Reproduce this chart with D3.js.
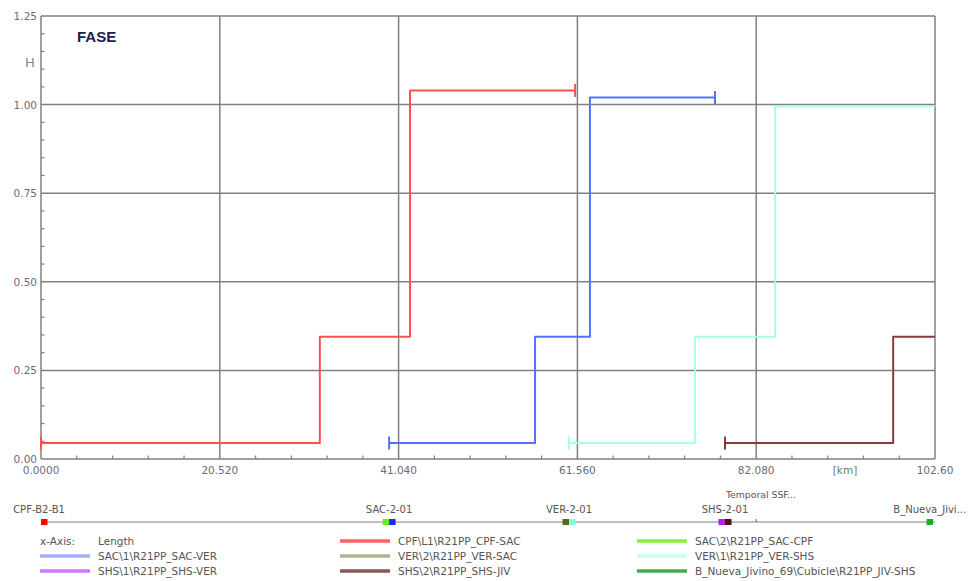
<!DOCTYPE html>
<html>
<head>
<meta charset="utf-8">
<script src="https://cdn.jsdelivr.net/npm/d3@7"></script>
<style>
  body { margin: 0; background: #fff; }
  svg { display: block; font-family: "DejaVu Sans", Verdana, sans-serif; }
</style>
</head>
<body>
<svg id="chart" width="972" height="581"></svg>
<script>
// Axis extents and tick labels
const xTicks = [0, 20.52, 41.04, 61.56, 82.08, 102.6];
const xTickLabels = ["0.0000", "20.520", "41.040", "61.560", "82.080", "102.60"];
const yTicks = [0, 0.25, 0.5, 0.75, 1.0, 1.25];
const yTickLabels = ["0.00", "0.25", "0.50", "0.75", "1.00", "1.25"];

// Step series: break points along the line (km) and the level of each step
const redX = [0.0, 32.0, 42.35, 61.3];
const redY = [0.045, 0.345, 1.04];
const blueX = [39.95, 56.7, 63.0, 77.35];
const blueY = [0.045, 0.345, 1.02];
const cyanX = [60.6, 75.05, 84.25, 102.6];
const cyanY = [0.045, 0.345, 0.995];
const brownX = [78.5, 97.8, 102.6];
const brownY = [0.045, 0.345];

// Stations along the path
const stationNames = ["CPF-B2-B1", "SAC-2-01", "VER-2-01", "SHS-2-01", "B_Nueva_Jivi..."];
const stationKm = [0.0, 39.95, 60.6, 78.5, 102.0];
const stationColors = [["#ff0000"], ["#66ee22", "#1030ff"], ["#556b1a", "#7fffe0"], ["#aa22ee", "#5a0a0a"], ["#22aa22"]];

// Legend entries
const legendNames = [
  "CPF\\L1\\R21PP_CPF-SAC", "SAC\\2\\R21PP_SAC-CPF",
  "SAC\\1\\R21PP_SAC-VER", "VER\\2\\R21PP_VER-SAC", "VER\\1\\R21PP_VER-SHS",
  "SHS\\1\\R21PP_SHS-VER", "SHS\\2\\R21PP_SHS-JIV", "B_Nueva_Jivino_69\\Cubicle\\R21PP_JIV-SHS"
];
const legendColors = ["#ff6060", "#88ee44", "#a4b0ff", "#a9b892", "#c4fff0", "#cc77ff", "#8a5858", "#44aa44"];

const svg = d3.select("#chart");
const L = 41, R = 935, T = 16, B = 459;

const x = d3.scaleLinear().domain([0, 102.6]).range([L, R]);
const y = d3.scaleLinear().domain([0, 1.25]).range([B, T]);

const gridColor = "#808080";

// Minor ticks
const xMinor = d3.range(0, 25).map(i => i * 20.52 / 5).filter((v, i) => i % 5 !== 0);
const yMinor = d3.range(0, 25).map(i => i * 0.05).filter((v, i) => i % 5 !== 0);
svg.append("g").selectAll("line").data(xMinor).join("line")
  .attr("x1", d => x(d)).attr("x2", d => x(d))
  .attr("y1", B).attr("y2", B - 3.5)
  .attr("stroke", gridColor).attr("stroke-width", 1.2);
svg.append("g").selectAll("line").data(yMinor).join("line")
  .attr("y1", d => y(d)).attr("y2", d => y(d))
  .attr("x1", L).attr("x2", L + 3.5)
  .attr("stroke", gridColor).attr("stroke-width", 1.2);

// Major grid
svg.append("g").selectAll("line").data(xTicks).join("line")
  .attr("x1", d => x(d)).attr("x2", d => x(d))
  .attr("y1", T).attr("y2", B)
  .attr("stroke", gridColor).attr("stroke-width", 1.5);
svg.append("g").selectAll("line").data(yTicks).join("line")
  .attr("y1", d => y(d)).attr("y2", d => y(d))
  .attr("x1", L).attr("x2", R)
  .attr("stroke", gridColor).attr("stroke-width", 1.5);

// Tick labels
svg.append("g").selectAll("text").data(xTicks).join("text")
  .attr("x", d => x(d)).attr("y", B + 15)
  .attr("text-anchor", "middle").attr("font-size", 10.5).attr("fill", "#6a6a7a")
  .text((d, i) => xTickLabels[i]);
svg.append("g").selectAll("text").data(yTicks).join("text")
  .attr("x", L - 4).attr("y", d => y(d) + 4)
  .attr("text-anchor", "end").attr("font-size", 10.5).attr("fill", "#6a6a7a")
  .text((d, i) => yTickLabels[i]);

svg.append("text").attr("x", 845).attr("y", B + 15).attr("text-anchor", "middle")
  .attr("font-size", 10.5).attr("fill", "#6a7a6a").text("[km]");
svg.append("text").attr("x", 30).attr("y", 67).attr("text-anchor", "middle")
  .attr("font-size", 13).attr("fill", "#7a8a9a").text("H");
svg.append("text").attr("x", 77).attr("y", 42)
  .attr("font-family", "'Liberation Sans', Arial, sans-serif")
  .attr("font-size", 15).attr("font-weight", "bold").attr("fill", "#1a2050").text("FASE");

// Step lines
const line = d3.line().x(d => x(d[0])).y(d => y(d[1])).curve(d3.curveStepAfter);
function stepSeries(xs, ys, color, endCap) {
  const pts = xs.map((v, i) => [v, ys[Math.min(i, ys.length - 1)]]);
  const g = svg.append("g");
  g.append("path").attr("d", line(pts))
    .attr("fill", "none").attr("stroke", color).attr("stroke-width", 2)
    .attr("stroke-linejoin", "round");
  const caps = endCap ? [pts[0], pts[pts.length - 1]] : [pts[0]];
  g.selectAll("line").data(caps).join("line")
    .attr("x1", d => x(d[0])).attr("x2", d => x(d[0]))
    .attr("y1", d => y(d[1]) - 6.5).attr("y2", d => y(d[1]) + 6.5)
    .attr("stroke", color).attr("stroke-width", 2);
}
stepSeries(redX, redY, "#ff5050", true);
stepSeries(blueX, blueY, "#5570ff", true);
stepSeries(cyanX, cyanY, "#a6ffe6", false);
stepSeries(brownX, brownY, "#8a3a3a", false);

// Station strip
const sy = 522;
svg.append("line").attr("x1", L).attr("x2", R).attr("y1", sy).attr("y2", sy)
  .attr("stroke", "#808080").attr("stroke-width", 1.2);
svg.append("line").attr("x1", x(82.08)).attr("x2", x(82.08)).attr("y1", sy).attr("y2", sy - 3)
  .attr("stroke", "#606060").attr("stroke-width", 1);
svg.append("text").attr("x", 761).attr("y", 498).attr("text-anchor", "middle")
  .attr("font-size", 9.3).attr("fill", "#555").text("Temporal SSF...");
const st = svg.append("g");
stationKm.forEach((km, i) => {
  const cx = x(km);
  const cols = stationColors[i];
  const w = 6.5;
  const x0 = i === 0 ? cx : cx - w * cols.length / 2;
  cols.forEach((c, j) => {
    st.append("rect").attr("x", x0 + j * w).attr("y", sy - 3).attr("width", w).attr("height", 6)
      .attr("fill", c);
  });
  st.append("text").attr("x", i === 0 ? cx - 2 : cx).attr("y", sy - 9)
    .attr("text-anchor", "middle").attr("font-size", 10).attr("fill", "#555")
    .text(stationNames[i]);
});

// Legend
const lg = svg.append("g").attr("font-size", 10.5).attr("fill", "#555");
lg.append("text").attr("x", 40).attr("y", 545).text("x-Axis:");
lg.append("text").attr("x", 98).attr("y", 545).text("Length");
const colX = [40, 340, 637];
legendNames.forEach((name, k) => {
  const slot = k + 1;
  const row = Math.floor(slot / 3), col = slot % 3;
  const yy = 541 + row * 15;
  lg.append("line").attr("x1", colX[col]).attr("x2", colX[col] + 50)
    .attr("y1", yy).attr("y2", yy).attr("stroke", legendColors[k]).attr("stroke-width", 3.5);
  lg.append("text").attr("x", colX[col] + 58).attr("y", yy + 4).text(name);
});
</script>
</body>
</html>
